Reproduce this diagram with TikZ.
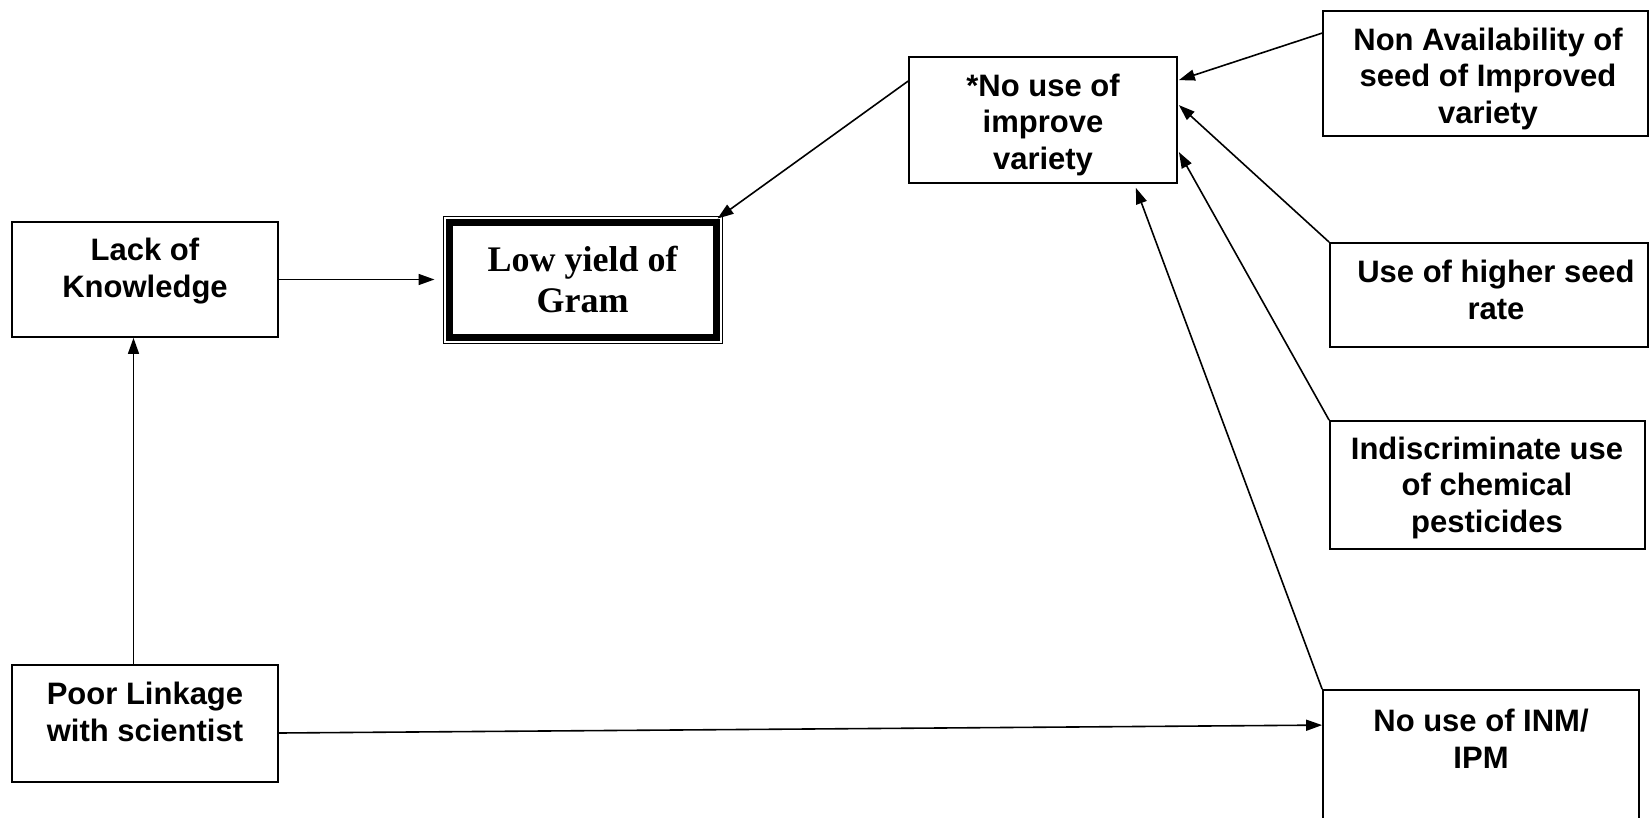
\documentclass[tikz,border=0pt]{standalone}
\usepackage{fontspec}
\setmainfont{Liberation Sans}
\newfontfamily\timesf{Liberation Serif}
\usetikzlibrary{arrows.meta,calc}
\tikzset{
  box/.style={draw, line width=1.8pt, rectangle, inner sep=0pt},
  txt/.style={align=center, inner sep=0pt, anchor=base, font=\fontsize{31}{36.5}\selectfont\bfseries},
  ttxt/.style={align=center, inner sep=0pt, anchor=base, font=\fontsize{36}{41}\selectfont\timesf\bfseries},
  arr/.style={line width=1.6pt, -{Triangle[length=16pt,width=11pt]}}
}
\begin{document}
\begin{tikzpicture}[x=1pt,y=-1pt]
\useasboundingbox (0,0) rectangle (1649,817);
\clip (0,0) rectangle (1649,817);
% boxes
\node[box, minimum width=266pt, minimum height=115pt] (lack) at (145,279.5) {};
\node[box, line width=1pt, minimum width=279pt, minimum height=127pt] (low) at (582.5,279.5) {};
\node[box, minimum width=268pt, minimum height=126pt] (noimp) at (1043,120) {};
\node[box, minimum width=325pt, minimum height=125pt] (nonav) at (1485.5,73.5) {};
\node[box, minimum width=318pt, minimum height=104pt] (higher) at (1489,295) {};
\node[box, minimum width=315pt, minimum height=128pt] (indis) at (1487.5,485) {};
\node[box, minimum width=266pt, minimum height=117pt] (poor) at (145,723.5) {};
\node[box, minimum width=316pt, minimum height=140pt] (inm) at (1481,760) {};
% thick inner frame of the main box
\draw[line width=7pt] ($(low.north west)+(6.5,6.5)$) rectangle ($(low.south east)+(-6.5,-6.5)$);
% texts (anchored at the baseline of their last line)
\node[txt] (lackT) at (145,297) {Lack of\\Knowledge};
\node[ttxt] (lowT) at (582.5,312) {Low yield of\\Gram};
\node[txt] (noimpT) at (1043,169) {*No use of\\improve\\variety};
\node[txt] (nonavT) at (1488,123) {Non Availability of\\seed of Improved\\variety};
\node[txt] (higherT) at (1496,319) {Use of higher seed\\rate};
\node[txt] (indisT) at (1487,532) {Indiscriminate use\\of chemical\\pesticides};
\node[txt] (poorT) at (145,741) {Poor Linkage\\with scientist};
\node[txt] (inmT) at (1481,768) {No use of INM/\\IPM};
% connectors
\draw[arr, shorten >=8pt] (lack.east) -- (low.west);
\draw[arr] ($(poor.north)+(-11.5,0)$) -- ($(lack.south)+(-11.5,0)$);
\draw[arr] ($(noimp.north west)+(0,25)$) -- ($(low.north east)+(-5,3)$);
\draw[arr] ($(nonav.north west)+(0,23)$) -- ($(noimp.north east)+(1,24)$);
\draw[arr] (higher.north west) -- ($(noimp.north east)+(1,49)$);
\draw[arr] (indis.north west) -- ($(noimp.north east)+(1,96)$);
\draw[arr] (inm.north west) -- ($(noimp.south east)+(-42,4)$);
\draw[arr] ($(poor.east)+(0,9.5)$) -- ($(inm.north west)+(0,36)$);
\end{tikzpicture}
\end{document}
